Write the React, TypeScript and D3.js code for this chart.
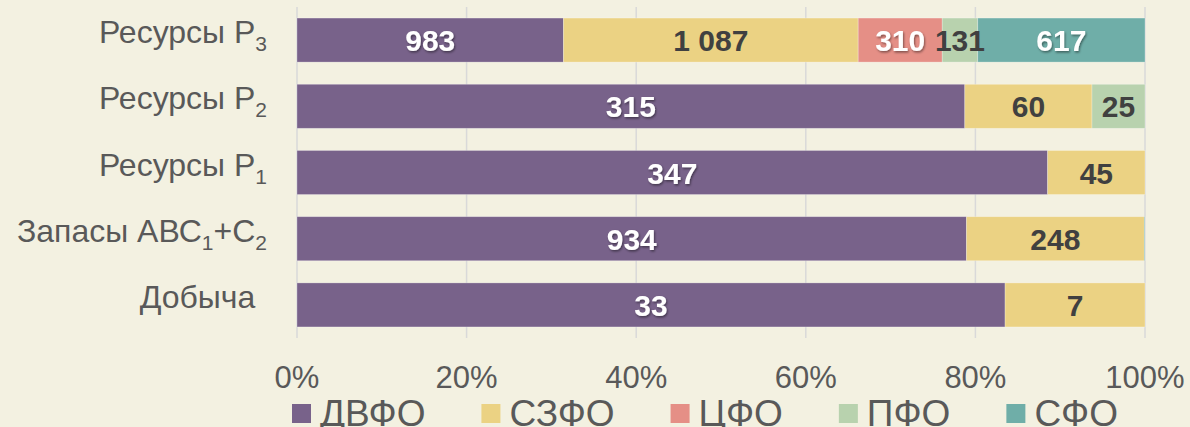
import * as d3 from "d3";
import React, { useEffect, RefObject } from "react";

// categories, top to bottom; each label is a list of [text, subscript] parts
const categories: string[] = ["r3", "r2", "r1", "zap", "dob"];
const categoryLabels: [string, string][][] = [
	[["Ресурсы Р", "3"]],
	[["Ресурсы Р", "2"]],
	[["Ресурсы Р", "1"]],
	[
		["Запасы АВС", "1"],
		["+С", "2"],
	],
	[["Добыча", "\u2007"]],
];

// series, by federal district
const seriesNames: string[] = ["ДВФО", "СЗФО", "ЦФО", "ПФО", "СФО"];
const dvfo: number[] = [983, 315, 347, 934, 33.4];
const szfo: number[] = [1087, 60, 45, 248, 6.6];
const cfo: number[] = [310, 0, 0, 0, 0];
const pfo: number[] = [131, 25, 0, 0, 0];
const sfo: number[] = [617, 0, 0, 1, 0];

const xTicks: number[] = [0, 0.2, 0.4, 0.6, 0.8, 1];

const colors: string[] = ["#78628a", "#ebd283", "#e58f86", "#b8d2ae", "#6faea8"];
const labelColors: string[] = ["#ffffff", "#404040", "#ffffff", "#404040", "#ffffff"];

const App = () => {
	const ref: RefObject<HTMLDivElement> = React.createRef();

	useEffect(() => draw());

	const draw = () => {
		const width = 1190;
		const height = 427;
		const left = 297;
		const right = 1145;
		const top = 7;
		const bottom = 338;
		const font = "'Liberation Sans', Arial, sans-serif";

		document.body.style.margin = "0";
		d3.select(ref.current).selectAll("svg").remove();

		const svg = d3
			.select(ref.current)
			.append("svg")
			.attr("width", width)
			.attr("height", height)
			.style("display", "block")
			.style("font-family", font);

		const defs = svg.append("defs");
		defs.append("filter")
			.attr("id", "shadow")
			.attr("x", "-20%")
			.attr("y", "-20%")
			.attr("width", "140%")
			.attr("height", "140%")
			.append("feDropShadow")
			.attr("dx", 1)
			.attr("dy", 1.5)
			.attr("stdDeviation", 1)
			.attr("flood-color", "#000")
			.attr("flood-opacity", 0.45);

		svg.append("rect")
			.attr("width", width)
			.attr("height", height)
			.attr("fill", "#f3f1e1");

		const xScale = d3.scaleLinear().domain([0, 1]).range([left, right]);
		const yScale = d3
			.scaleBand()
			.domain(categories)
			.range([top, bottom])
			.paddingInner(0.335)
			.paddingOuter(0.167);

		// gridlines
		svg.append("g")
			.selectAll("line")
			.data(xTicks)
			.join("line")
			.attr("x1", (d) => xScale(d))
			.attr("x2", (d) => xScale(d))
			.attr("y1", top)
			.attr("y2", bottom)
			.attr("stroke", "#d9d9d9")
			.attr("stroke-width", 1.5);

		// tick labels
		svg.append("g")
			.selectAll("text")
			.data(xTicks)
			.join("text")
			.attr("x", (d) => xScale(d))
			.attr("y", 388)
			.attr("text-anchor", "middle")
			.attr("font-size", 31)
			.attr("fill", "#595959")
			.text((d) => d3.format(".0%")(d));

		// stacked data
		const table = categories.map((c, i) => {
			const row: any = { cat: c };
			const vals = [dvfo[i], szfo[i], cfo[i], pfo[i], sfo[i]];
			const total = d3.sum(vals);
			seriesNames.forEach((s, j) => {
				row[s] = vals[j] / total;
				row[s + "_v"] = vals[j];
			});
			return row;
		});
		const stack = d3.stack().keys(seriesNames)(table);

		const fmt = d3.formatLocale({
			decimal: ",",
			thousands: "\u00a0",
			grouping: [3],
			currency: ["", ""],
		}).format(",.0f");

		stack.forEach((layer, j) => {
			const g = svg.append("g");
			g.selectAll("rect")
				.data(layer)
				.join("rect")
				.attr("x", (d) => xScale(d[0]))
				.attr("y", (d: any) => yScale(d.data.cat) as number)
				.attr("width", (d) => Math.max(0, xScale(d[1]) - xScale(d[0])))
				.attr("height", yScale.bandwidth())
				.attr("fill", colors[j])
				.attr("stroke", "rgba(255,255,255,0.35)")
				.attr("stroke-width", 0.75);
		});

		stack.forEach((layer, j) => {
			const g = svg.append("g");
			g.selectAll("text")
				.data(layer.filter((d) => xScale(d[1]) - xScale(d[0]) > 10))
				.join("text")
				.attr("x", (d) => (xScale(d[0]) + xScale(d[1])) / 2)
				.attr(
					"y",
					(d: any) =>
						(yScale(d.data.cat) as number) +
						yScale.bandwidth() / 2 +
						11
				)
				.attr("text-anchor", "middle")
				.attr("font-size", 30)
				.attr("font-weight", "bold")
				.attr("fill", labelColors[j])
				.attr("filter", labelColors[j] === "#ffffff" ? "url(#shadow)" : null)
				.text((d: any) => fmt(d.data[seriesNames[j] + "_v"]));
		});

		// category labels
		categories.forEach((c, i) => {
			const t = svg
				.append("text")
				.attr("x", 267)
				.attr("y", (yScale(c) as number) + yScale.bandwidth() / 2 + 3)
				.attr("text-anchor", "end")
				.attr("fill", "#595959")
				.attr("font-size", 32);
			categoryLabels[i].forEach(([main, sub], k) => {
				t.append("tspan")
					.attr("dy", k === 0 ? 0 : -8)
					.text(main);
				t.append("tspan")
					.attr("dy", 8)
					.attr("font-size", 21)
					.text(sub);
			});
		});

		// legend
		const legend = svg.append("g");
		let lx = 292;
		seriesNames.forEach((s, j) => {
			legend.append("rect")
				.attr("x", lx)
				.attr("y", 404)
				.attr("width", 19)
				.attr("height", 19)
				.attr("fill", colors[j]);
			const txt = legend
				.append("text")
				.attr("x", lx + 28)
				.attr("y", 426)
				.attr("font-size", 37)
				.attr("fill", "#595959")
				.text(s);
			const w = (txt.node() as SVGTextElement).getComputedTextLength();
			lx += 28 + w + 56;
		});
	};

	return <div ref={ref}></div>;
};

export default App;
